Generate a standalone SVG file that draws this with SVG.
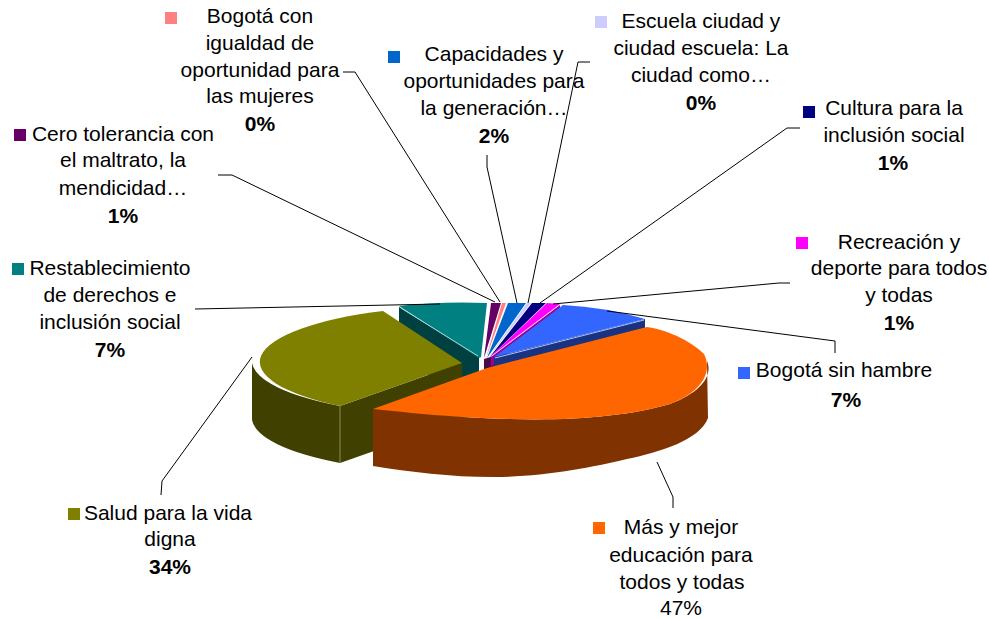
<svg xmlns="http://www.w3.org/2000/svg" width="989" height="619" viewBox="0 0 989 619">
<style>
text{font-family:"Liberation Sans",Arial,sans-serif;font-size:21px;fill:#000;text-anchor:middle}
.b{font-weight:bold}
.ln{fill:none;stroke:#000;stroke-width:1}
.hl{fill:none;stroke-width:1}
</style>
<rect width="989" height="619" fill="#fff"/>
<g id="pie">
<g id="slice-teal">
<polygon points="399,307 479,357 479,400 399,360" fill="#004040"/>
<path d="M399,306 Q442,301 487,303 L481,357 L479,358 Z" fill="#008080"/>
<line x1="401" y1="308" x2="478" y2="356" stroke="#a8d8d8" class="hl"/>
</g>
<g id="slice-small">
<polygon points="484,359 494,356 494,369 484,372" fill="#4a0a4a"/>
<path d="M484,358 L491,303 L501,303 Z" fill="#660066"/>
<path d="M486,358 L502,303 L506,303 Z" fill="#FF8080"/>
<path d="M487,358 L508,303 L526,303 Z" fill="#0066CC"/>
<path d="M488,358 L527,303 L531,303 Z" fill="#CCCCFF"/>
<path d="M489,358 L532,303 L546,303 Z" fill="#000080"/>
<polygon points="491,357 560,305 560,313 491,367" fill="#990099"/>
<path d="M490,357 L547,303 L560,304 Z" fill="#FF00FF"/>
</g>
<g id="slice-blue">
<polygon points="494,357 645,319 645,328 494,368" fill="#1A3380"/>
<path d="M494,357 L563,305 Q605,307 645,319 Z" fill="#3366FF"/>
<line x1="644" y1="320" x2="495" y2="358" stroke="#b0c4ff" class="hl"/>
</g>
<g id="slice-olive">
<polygon points="462,363 340,406 340,463 462,420" fill="#404000"/>
<path d="M340,406 A210,56 0 0,1 252,363 L252,420 A210,56 0 0,0 340,463 Z" fill="#404000"/>
<path d="M462,363 L340,406 A210,56 0 0,1 383,311 Z" fill="#808000"/>
<line x1="340" y1="406" x2="340" y2="463" stroke="#8c8c5a" class="hl"/>
</g>
<g id="slice-orange">
<path d="M373,409 C410,413 460,418 510,419 C570,421 630,416 670,404 C702,392 713,375 707,361 L708,418 C700,440 660,452 627,459 C590,468 540,477 493,477 C450,477 410,472 373,466 Z" fill="#803300"/>
<path d="M373,409 L487,368 L647,327 C672,331 693,343 704,354 C713,372 702,392 670,404 C630,416 570,421 510,419 C460,418 410,413 373,409 Z" fill="#FF6600"/>
</g>
</g>
<g id="connectors">
<polyline class="ln" points="343,72 355,72 500,302"/>
<polyline class="ln" points="487,155 487,167 517,303"/>
<polyline class="ln" points="590,62 578,62 528,303"/>
<polyline class="ln" points="800,128 787,128 540,303"/>
<polyline class="ln" points="790,283 779,283 553,304"/>
<polyline class="ln" points="835,353 835,341 607,311"/>
<polyline class="ln" points="657,462 673,497 673,508"/>
<polyline class="ln" points="252,357 162,481 161,495"/>
<polyline class="ln" points="195,309 440,304"/>
<polyline class="ln" points="218,175 232,175 495,302"/>
</g>
<g id="label-igualdad">
<rect x="165" y="12" width="12" height="12" fill="#FF8080"/>
<text x="260" y="23">Bogotá con</text>
<text x="260" y="50">igualdad de</text>
<text x="260" y="76.5">oportunidad para</text>
<text x="260" y="103">las mujeres</text>
<text x="260" y="131" class="b">0%</text>
</g>
<g id="label-capacidades">
<rect x="388" y="51" width="12" height="12" fill="#0066CC"/>
<text x="494" y="61">Capacidades y</text>
<text x="494" y="87.5">oportunidades para</text>
<text x="494" y="114.5">la generación…</text>
<text x="494" y="143" class="b">2%</text>
</g>
<g id="label-escuela">
<rect x="595" y="16" width="12" height="12" fill="#CCCCFF"/>
<text x="701" y="28">Escuela ciudad y</text>
<text x="701" y="55">ciudad escuela: La</text>
<text x="701" y="82">ciudad como…</text>
<text x="701" y="110" class="b">0%</text>
</g>
<g id="label-cultura">
<rect x="803" y="106" width="12" height="12" fill="#000080"/>
<text x="894" y="115">Cultura para la</text>
<text x="894" y="141.5">inclusión social</text>
<text x="893" y="170" class="b">1%</text>
</g>
<g id="label-cero">
<rect x="14" y="129" width="12" height="12" fill="#660066"/>
<text x="123" y="140.5">Cero tolerancia con</text>
<text x="123" y="167">el maltrato, la</text>
<text x="123" y="195">mendicidad…</text>
<text x="123" y="223" class="b">1%</text>
</g>
<g id="label-restablecimiento">
<rect x="12" y="263" width="12" height="12" fill="#008080"/>
<text x="110" y="274.5">Restablecimiento</text>
<text x="110" y="301.5">de derechos e</text>
<text x="110" y="328.5">inclusión social</text>
<text x="110" y="356.5" class="b">7%</text>
</g>
<g id="label-recreacion">
<rect x="796" y="237" width="12" height="12" fill="#FF00FF"/>
<text x="899" y="248.5">Recreación y</text>
<text x="899" y="275">deporte para todos</text>
<text x="899" y="301.5">y todas</text>
<text x="899" y="330" class="b">1%</text>
</g>
<g id="label-hambre">
<rect x="738" y="367" width="12" height="12" fill="#3366FF"/>
<text x="844" y="377">Bogotá sin hambre</text>
<text x="846" y="406.5" class="b">7%</text>
</g>
<g id="label-salud">
<rect x="68" y="508" width="12" height="12" fill="#808000"/>
<text x="168" y="519.5">Salud para la vida</text>
<text x="170" y="546">digna</text>
<text x="170" y="573.5" class="b">34%</text>
</g>
<g id="label-educacion">
<rect x="593" y="522" width="12" height="12" fill="#FF6600"/>
<text x="681" y="533.5">Más y mejor</text>
<text x="681" y="561.5">educación para</text>
<text x="682" y="588.5">todos y todas</text>
<text x="681" y="615">47%</text>
</g>
</svg>
